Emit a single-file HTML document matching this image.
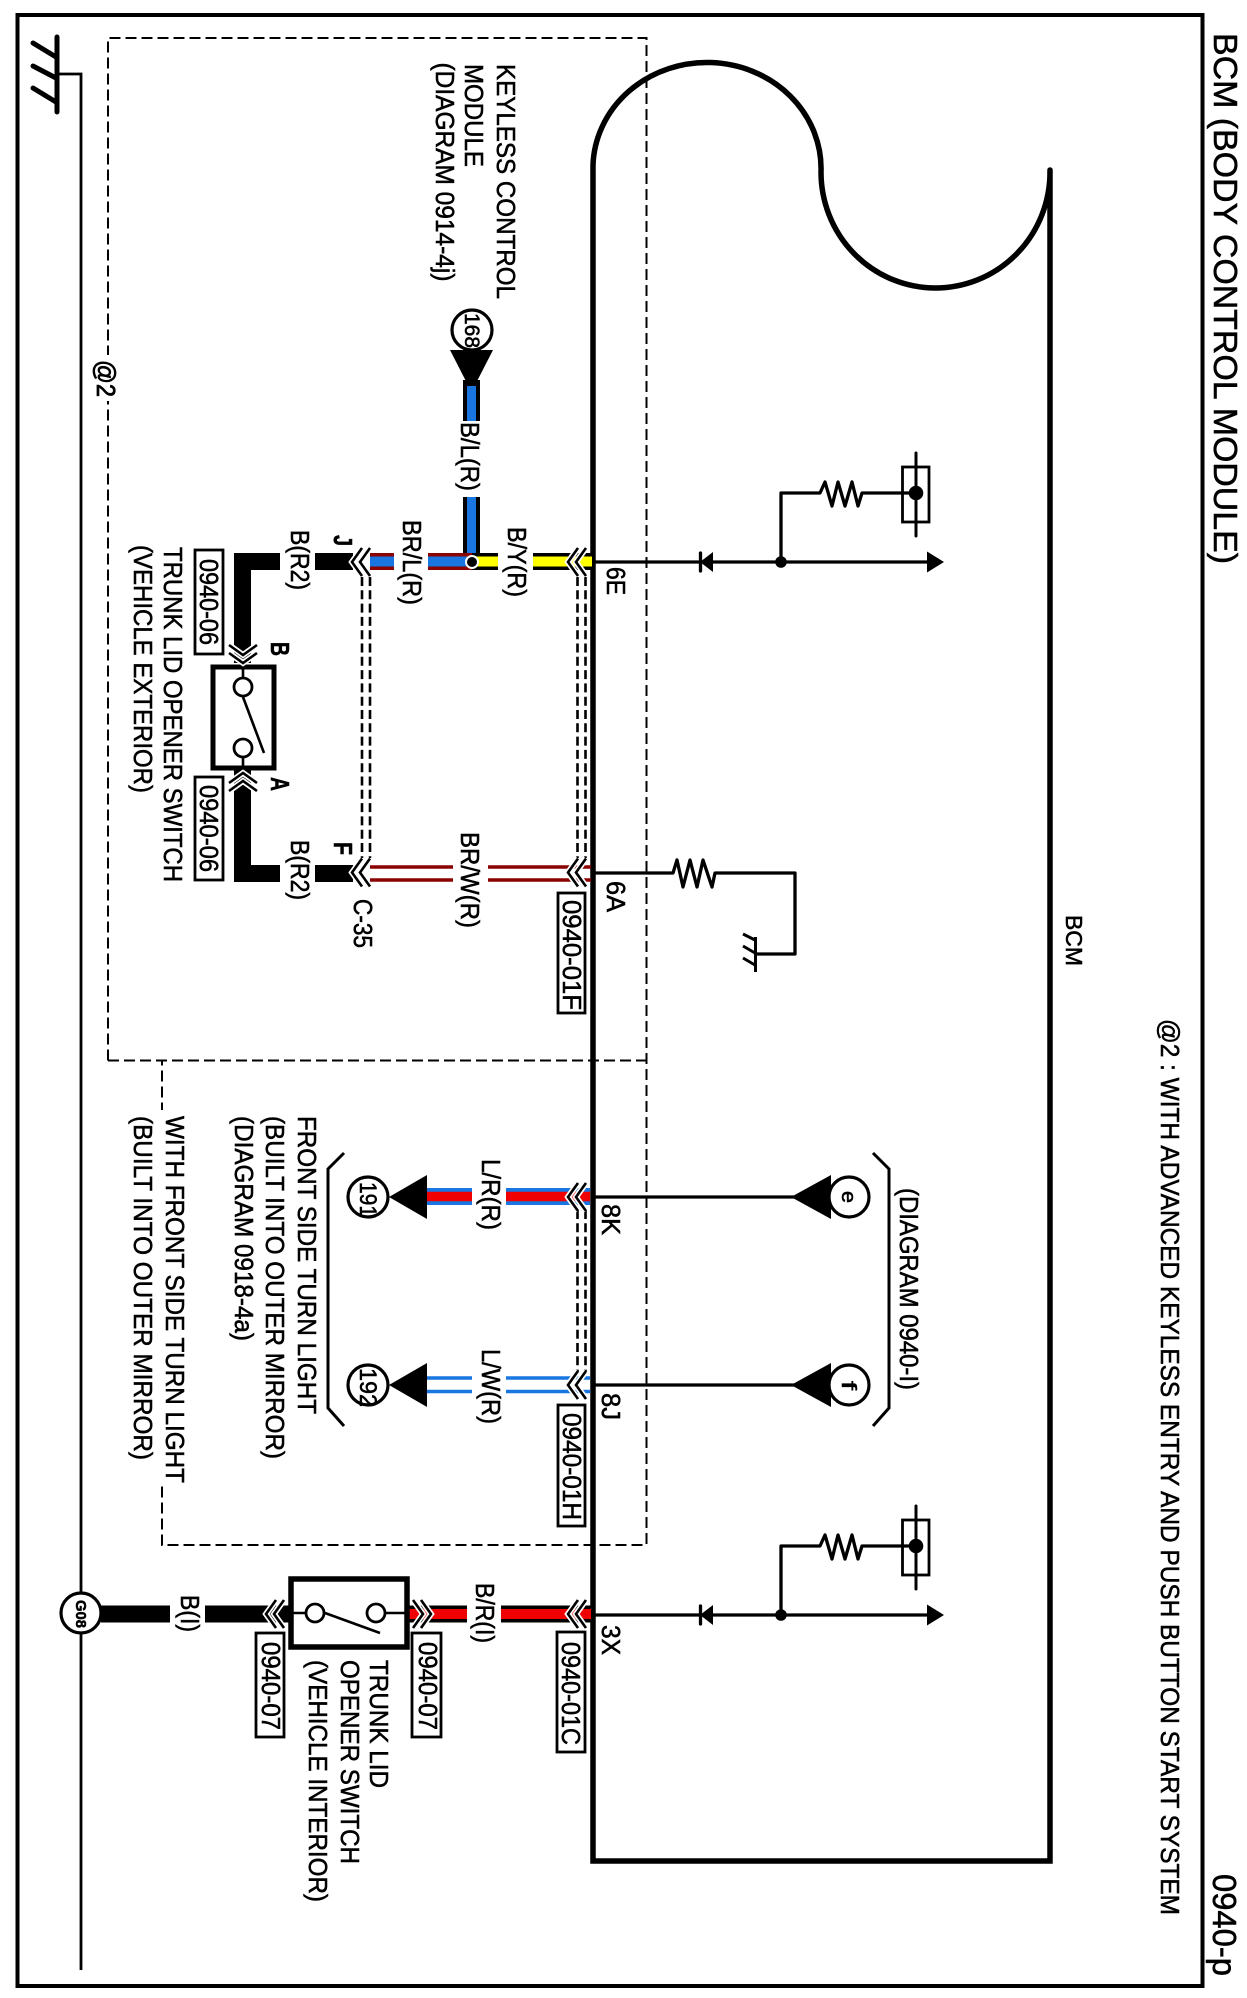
<!DOCTYPE html>
<html><head><meta charset="utf-8"><style>
html,body{margin:0;padding:0;background:#fff}
svg{display:block}
text{font-family:"Liberation Sans",sans-serif;fill:#000;stroke:#000;stroke-width:.55}
</style></head><body>
<svg width="1247" height="1998" viewBox="0 0 1247 1998" xmlns="http://www.w3.org/2000/svg">
<defs>
<g id="chev" fill="none"><path d="M10,-14 L0,0 L10,14 M18,-14 L8,0 L18,14" stroke="#fff" stroke-width="6"/><path d="M10,-14 L0,0 L10,14 M18,-14 L8,0 L18,14" stroke="#000" stroke-width="2.6"/></g>
<g id="branch">
<path d="M593,0H932" stroke="#000" stroke-width="3.3" fill="none"/>
<path d="M700.5,-9V9" stroke="#000" stroke-width="3.3" stroke-linecap="round"/><path d="M713,-10V10L700,0Z" fill="#000"/>
<circle cx="781" cy="0" r="5.8" fill="#000"/>
<path d="M927,-10.5L944,0L927,10.5Z" fill="#000"/>
<path d="M781,0V-69H820L825,-80L832,-56L838,-80L845,-56L852,-80L858,-56L862,-69H916" fill="none" stroke="#000" stroke-width="3.3" stroke-linejoin="round"/>
<rect x="902.5" y="-95" width="26.5" height="55" fill="none" stroke="#000" stroke-width="2.8"/>
<path d="M916,-109V-26" stroke="#000" stroke-width="3" stroke-linecap="round"/>
<circle cx="916" cy="-69" r="7.3" fill="#000"/>
</g>
</defs>
<rect width="1247" height="1998" fill="#fff"/>
<rect x="17.5" y="15" width="1185" height="1971" fill="none" stroke="#000" stroke-width="4"/>

<!-- main ground -->
<path d="M57,74H81V1970" fill="none" stroke="#000" stroke-width="2.8"/>
<path d="M57,37V112M33,43L56,57M33,66L56,78M33,88L56,102" fill="none" stroke="#000" stroke-width="5" stroke-linecap="round"/>

<!-- dashed boxes -->
<g fill="none" stroke="#000" stroke-width="2" stroke-dasharray="11,5">
<path d="M108,1060.5V38H646.5V1545H162V1060.5"/>
<path d="M108,1060.5H646.5"/>
</g>
<rect x="90" y="355" width="36" height="46" fill="#fff"/>
<rect x="155" y="1110" width="14" height="374" fill="#fff"/>

<!-- BCM box -->
<path d="M593,1861V165A114,106 0 0 1 821,172A114.5,116 0 0 0 1050,172V1861Z" fill="none" stroke="#000" stroke-width="5.5"/>
<path d="M1050,172V170" stroke="#000" stroke-width="5.5" stroke-linecap="round"/>

<!-- right side branches -->
<use href="#branch" y="562"/>
<use href="#branch" y="1615"/>

<!-- 6A -->
<path d="M593,873H673L677,860L683,887L690,860L697,887L703,860L712,887L715,873H795V954H755.5" fill="none" stroke="#000" stroke-width="3.3" stroke-linejoin="round"/>
<path d="M755.5,937V972M743,934L755,940M743,946L755,953M743,958L755,965" fill="none" stroke="#000" stroke-width="3"/>

<!-- 8K 8J -->
<path d="M593,1197H795M593,1385H795" stroke="#000" stroke-width="3.3"/>
<path d="M791,1197L831,1175V1219Z M791,1385L831,1363V1407Z" fill="#000"/>
<circle cx="849" cy="1197" r="20" fill="#fff" stroke="#000" stroke-width="3.2"/>
<circle cx="849" cy="1385" r="20" fill="#fff" stroke="#000" stroke-width="3.2"/>
<path d="M873,1153L889,1169V1408L873,1426M344,1153L328,1169V1408L344,1426" fill="none" stroke="#000" stroke-width="3"/>
<path d="M389,1197L427,1175V1219Z M389,1385L427,1363V1407Z" fill="#000"/>
<circle cx="368" cy="1197" r="20" fill="#fff" stroke="#000" stroke-width="3.2"/>
<circle cx="368" cy="1385" r="20" fill="#fff" stroke="#000" stroke-width="3.2"/>
<!-- L/R wire -->
<path d="M427,1196.5H472M506,1196.5H590" stroke="#1976e0" stroke-width="17"/>
<path d="M427,1196.5H472M506,1196.5H590" stroke="#f00000" stroke-width="9.5"/>
<!-- L/W wire -->
<path d="M427,1378H472M506,1378H590M427,1391.5H472M506,1391.5H590" stroke="#1976e0" stroke-width="3.6"/>

<!-- 168 -->
<circle cx="472" cy="330" r="20" fill="#fff" stroke="#000" stroke-width="3.2"/>
<path d="M450,350H493L471.5,392Z" fill="#000"/>
<path d="M471.5,380V421M471.5,497V556" stroke="#000" stroke-width="17"/>
<path d="M471.5,386V421M471.5,497V556" stroke="#1976e0" stroke-width="9"/>

<!-- row 6E wires -->
<path d="M234,561.5H280M315,561.5H353" stroke="#000" stroke-width="17"/>
<path d="M242.5,553V663" stroke="#000" stroke-width="17"/>
<path d="M370,561.5H394M428,561.5H472" stroke="#8b0000" stroke-width="17"/>
<path d="M370,561.5H394M428,561.5H472" stroke="#1976e0" stroke-width="10"/>
<path d="M472,561.5H498M533,561.5H592" stroke="#000" stroke-width="17"/>
<path d="M472,561.5H498M533,561.5H592" stroke="#ffff00" stroke-width="10"/>
<circle cx="472" cy="562" r="6" fill="#000" stroke="#fff" stroke-width="2"/>

<!-- row 6A wires -->
<path d="M234,873.5H280M315,873.5H353" stroke="#000" stroke-width="17"/>
<path d="M242.5,768V882" stroke="#000" stroke-width="17"/>
<path d="M370,867H453M488,867H591M370,880H453M488,880H591" stroke="#8b0000" stroke-width="3.6"/>

<!-- shields -->
<g stroke="#000" stroke-width="2.6" stroke-dasharray="9,4.3" fill="none">
<path d="M362,577V858M370,577V858M577.5,577V858M585.5,577V858"/>
<path d="M577.5,1210V1372M585.5,1210V1372"/>
</g>

<!-- exterior switch -->
<rect x="213" y="667" width="61" height="101" fill="#fff" stroke="#000" stroke-width="5"/>
<path d="M243,667V678M243,757V768M243,697L264,753" stroke="#000" stroke-width="2.6" fill="none"/>
<circle cx="243" cy="687" r="9" fill="#fff" stroke="#000" stroke-width="2.8"/>
<circle cx="243" cy="748" r="9" fill="#fff" stroke="#000" stroke-width="2.8"/>

<!-- 3X row -->
<path d="M101,1614H170M205,1614H290" stroke="#000" stroke-width="17"/>
<path d="M407,1614H467M501,1614H591" stroke="#000" stroke-width="17"/>
<path d="M407,1614H467M501,1614H591" stroke="#f00000" stroke-width="10"/>
<circle cx="81" cy="1613" r="20" fill="#fff" stroke="#000" stroke-width="3.2"/>
<rect x="291" y="1579" width="116" height="68" fill="#fff" stroke="#000" stroke-width="5.5"/>
<path d="M291,1613H306M385,1613H407M325,1613L380,1633" stroke="#000" stroke-width="2.6" fill="none"/>
<circle cx="315" cy="1613" r="9" fill="#fff" stroke="#000" stroke-width="2.8"/>
<circle cx="376" cy="1613" r="9" fill="#fff" stroke="#000" stroke-width="2.8"/>

<!-- chevrons -->
<use href="#chev" x="352" y="562"/>
<use href="#chev" x="568" y="562"/>
<use href="#chev" x="352" y="872.5"/>
<use href="#chev" x="568" y="872.5"/>
<use href="#chev" x="568" y="1197"/>
<use href="#chev" x="568" y="1385"/>
<use href="#chev" x="568" y="1614"/>
<use href="#chev" x="266" y="1614"/>
<use href="#chev" transform="translate(431,1614) rotate(180)"/>
<use href="#chev" transform="translate(243,663) rotate(-90)"/>
<use href="#chev" transform="translate(243,773) rotate(90)"/>

<!-- ref boxes -->
<g fill="#fff" stroke="#000" stroke-width="2.8">
<rect x="195" y="550" width="28" height="104"/>
<rect x="195" y="777" width="28" height="103"/>
<rect x="558" y="893" width="27" height="120"/>
<rect x="558" y="1405" width="27" height="121"/>
<rect x="557" y="1632" width="28" height="120"/>
<rect x="256" y="1633" width="28" height="104"/>
<rect x="412" y="1633" width="29" height="104"/>
</g>

<!-- text -->
<g font-size="26">
<text font-size="33" transform="translate(1214,33) rotate(90)" textLength="531" lengthAdjust="spacingAndGlyphs">BCM (BODY CONTROL MODULE)</text>
<text font-size="33" transform="translate(1213,1874) rotate(90)" textLength="102" lengthAdjust="spacingAndGlyphs">0940-p</text>
<text transform="translate(1161,1019) rotate(90)" textLength="896" lengthAdjust="spacingAndGlyphs">@2 : WITH ADVANCED KEYLESS ENTRY AND PUSH BUTTON START SYSTEM</text>
<text font-size="23" transform="translate(1066,915) rotate(90)" textLength="51" lengthAdjust="spacingAndGlyphs">BCM</text>

<text transform="translate(497,64) rotate(90)" textLength="235" lengthAdjust="spacingAndGlyphs">KEYLESS CONTROL</text>
<text transform="translate(465,64) rotate(90)" textLength="103" lengthAdjust="spacingAndGlyphs">MODULE</text>
<text transform="translate(436,62.5) rotate(90)" textLength="219" lengthAdjust="spacingAndGlyphs">(DIAGRAM 0914-4j)</text>
<text font-size="21" transform="translate(465,313) rotate(90)" textLength="35" lengthAdjust="spacingAndGlyphs">168</text>
<text transform="translate(97,360) rotate(90)" textLength="37" lengthAdjust="spacingAndGlyphs" style="stroke-width:.8">@2</text>

<text transform="translate(461,422) rotate(90)" textLength="69" lengthAdjust="spacingAndGlyphs">B/L(R)</text>
<text transform="translate(403,520) rotate(90)" textLength="85" lengthAdjust="spacingAndGlyphs">BR/L(R)</text>
<text transform="translate(508,527) rotate(90)" textLength="70" lengthAdjust="spacingAndGlyphs">B/Y(R)</text>
<text transform="translate(461,832) rotate(90)" textLength="96" lengthAdjust="spacingAndGlyphs">BR/W(R)</text>
<text transform="translate(291,530) rotate(90)" textLength="60" lengthAdjust="spacingAndGlyphs">B(R2)</text>
<text transform="translate(291,840) rotate(90)" textLength="60" lengthAdjust="spacingAndGlyphs">B(R2)</text>
<text transform="translate(334,535) rotate(90)" textLength="11" lengthAdjust="spacingAndGlyphs" style="font-weight:bold">J</text>
<text transform="translate(334,842) rotate(90)" textLength="13" lengthAdjust="spacingAndGlyphs" style="font-weight:bold">F</text>
<text transform="translate(271,642) rotate(90)" textLength="14" lengthAdjust="spacingAndGlyphs" style="font-weight:bold">B</text>
<text transform="translate(271,777) rotate(90)" textLength="14" lengthAdjust="spacingAndGlyphs" style="font-weight:bold">A</text>
<text transform="translate(354,899) rotate(90)" textLength="49" lengthAdjust="spacingAndGlyphs">C-35</text>
<text transform="translate(607,567) rotate(90)" textLength="28" lengthAdjust="spacingAndGlyphs">6E</text>
<text transform="translate(607,881) rotate(90)" textLength="31" lengthAdjust="spacingAndGlyphs">6A</text>
<text transform="translate(602,1204) rotate(90)" textLength="31" lengthAdjust="spacingAndGlyphs">8K</text>
<text transform="translate(602,1393) rotate(90)" textLength="27" lengthAdjust="spacingAndGlyphs">8J</text>
<text transform="translate(602,1625) rotate(90)" textLength="30" lengthAdjust="spacingAndGlyphs">3X</text>

<text transform="translate(164,547) rotate(90)" textLength="335" lengthAdjust="spacingAndGlyphs">TRUNK LID OPENER SWITCH</text>
<text transform="translate(134,545) rotate(90)" textLength="248" lengthAdjust="spacingAndGlyphs">(VEHICLE EXTERIOR)</text>
<text transform="translate(200,559) rotate(90)" textLength="86" lengthAdjust="spacingAndGlyphs">0940-06</text>
<text transform="translate(200,785) rotate(90)" textLength="87" lengthAdjust="spacingAndGlyphs">0940-06</text>
<text transform="translate(563,900) rotate(90)" textLength="110" lengthAdjust="spacingAndGlyphs">0940-01F</text>
<text transform="translate(563,1413) rotate(90)" textLength="107" lengthAdjust="spacingAndGlyphs">0940-01H</text>
<text transform="translate(562,1642) rotate(90)" textLength="103" lengthAdjust="spacingAndGlyphs">0940-01C</text>
<text transform="translate(262,1642) rotate(90)" textLength="88" lengthAdjust="spacingAndGlyphs">0940-07</text>
<text transform="translate(419,1642) rotate(90)" textLength="88" lengthAdjust="spacingAndGlyphs">0940-07</text>

<text transform="translate(298,1116) rotate(90)" textLength="298" lengthAdjust="spacingAndGlyphs">FRONT SIDE TURN LIGHT</text>
<text transform="translate(266,1116) rotate(90)" textLength="343" lengthAdjust="spacingAndGlyphs">(BUILT INTO OUTER MIRROR)</text>
<text transform="translate(235,1116) rotate(90)" textLength="225" lengthAdjust="spacingAndGlyphs">(DIAGRAM 0918-4a)</text>
<text transform="translate(166,1116) rotate(90)" textLength="367" lengthAdjust="spacingAndGlyphs">WITH FRONT SIDE TURN LIGHT</text>
<text transform="translate(134,1116) rotate(90)" textLength="344" lengthAdjust="spacingAndGlyphs">(BUILT INTO OUTER MIRROR)</text>

<text font-size="24" transform="translate(360,1182) rotate(90)" textLength="35" lengthAdjust="spacingAndGlyphs">191</text>
<text font-size="24" transform="translate(360,1368) rotate(90)" textLength="39" lengthAdjust="spacingAndGlyphs">192</text>
<text font-size="20" transform="translate(842,1191) rotate(90)" textLength="12" lengthAdjust="spacingAndGlyphs">e</text>
<text font-size="20" transform="translate(842,1381) rotate(90)" textLength="9" lengthAdjust="spacingAndGlyphs">f</text>
<text transform="translate(482,1159) rotate(90)" textLength="71" lengthAdjust="spacingAndGlyphs">L/R(R)</text>
<text transform="translate(482,1349) rotate(90)" textLength="75" lengthAdjust="spacingAndGlyphs">L/W(R)</text>
<text transform="translate(900,1188) rotate(90)" textLength="202" lengthAdjust="spacingAndGlyphs">(DIAGRAM 0940-I)</text>

<text font-size="15" transform="translate(76,1600) rotate(90)" textLength="28" lengthAdjust="spacingAndGlyphs" style="font-weight:bold">G08</text>
<text transform="translate(181,1595) rotate(90)" textLength="37" lengthAdjust="spacingAndGlyphs">B(I)</text>
<text transform="translate(476,1583) rotate(90)" textLength="60" lengthAdjust="spacingAndGlyphs">B/R(I)</text>
<text transform="translate(370,1660) rotate(90)" textLength="128" lengthAdjust="spacingAndGlyphs">TRUNK LID</text>
<text transform="translate(341,1660) rotate(90)" textLength="204" lengthAdjust="spacingAndGlyphs">OPENER SWITCH</text>
<text transform="translate(309,1660) rotate(90)" textLength="242" lengthAdjust="spacingAndGlyphs">(VEHICLE INTERIOR)</text>
</g>
</svg>
</body></html>
